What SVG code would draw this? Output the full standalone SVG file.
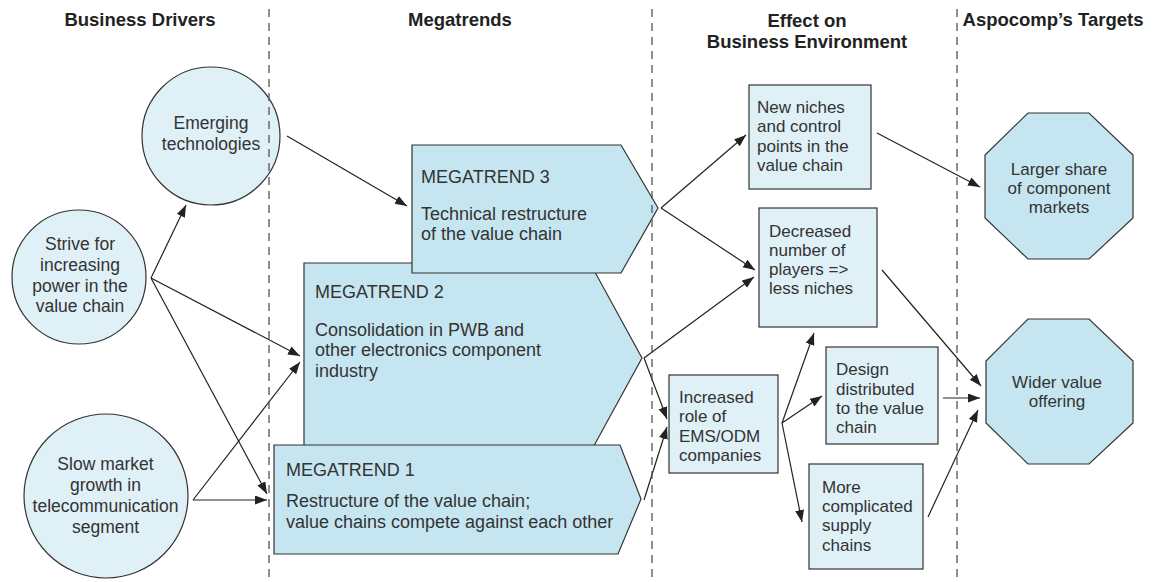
<svg xmlns="http://www.w3.org/2000/svg" width="1156" height="582" viewBox="0 0 1156 582">
  <style>
    .hd { font-family: "Liberation Sans", Arial, sans-serif; font-weight: bold; font-size: 18.5px; fill: #222; text-anchor: middle; }
    .t { font-family: "Liberation Sans", Arial, sans-serif; fill: #333; }
    .c { font-size: 17.5px; text-anchor: middle; }
    .m { font-size: 18px; }
    .b { font-size: 17px; }
    .o { font-size: 17px; text-anchor: middle; }
    .circ { fill: #dff0f7; stroke: #333; stroke-width: 1.2; }
    .mega { fill: #c5e6f0; stroke: #333; stroke-width: 1.2; }
    .box { fill: #dff0f7; stroke: #333; stroke-width: 1.2; }
    .oct { fill: #c5e6f0; stroke: #333; stroke-width: 1.2; }
    .edge { stroke: #222; stroke-width: 1.2; fill: none; marker-end: url(#arrow); }
    .sep { stroke: #555; stroke-width: 1.3; stroke-dasharray: 8 6; }
  </style>
  <defs>
    <marker id="arrow" markerUnits="userSpaceOnUse" markerWidth="13" markerHeight="10" refX="12" refY="4.5" orient="auto">
      <path d="M0,0 L12,4.5 L0,9 z" fill="#222"/>
    </marker>
  </defs>

  <rect width="1156" height="582" fill="#fff"/>

  <!-- column headings -->
  <g id="headings">
    <text class="hd" x="140" y="26">Business Drivers</text>
    <text class="hd" x="460" y="26">Megatrends</text>
    <text class="hd" x="807" y="27">Effect on</text>
    <text class="hd" x="807" y="48">Business Environment</text>
    <text class="hd" x="1053" y="26">Aspocomp’s Targets</text>
  </g>

  <!-- business drivers -->
  <g id="emerging">
    <circle class="circ" cx="211" cy="136" r="69"/>
    <text class="t c"><tspan x="211" y="129">Emerging</tspan><tspan x="211" y="150">technologies</tspan></text>
  </g>
  <g id="strive">
    <circle class="circ" cx="79" cy="277" r="67"/>
    <text class="t c"><tspan x="80" y="250">Strive for</tspan><tspan x="80" y="271">increasing</tspan><tspan x="80" y="291.5">power in the</tspan><tspan x="80" y="312">value chain</tspan></text>
  </g>
  <g id="slow">
    <circle class="circ" cx="106" cy="496" r="82"/>
    <text class="t c"><tspan x="105.5" y="470">Slow market</tspan><tspan x="105.5" y="491">growth in</tspan><tspan x="105.5" y="512">telecommunication</tspan><tspan x="105.5" y="533">segment</tspan></text>
  </g>

  <!-- megatrends -->
  <g id="megatrend2">
    <polygon class="mega" points="304,263 590,263 642,358 590,453 304,453"/>
    <text class="t m"><tspan x="315" y="298">MEGATREND 2</tspan><tspan x="315" y="336">Consolidation in PWB and</tspan><tspan x="315" y="356">other electronics component</tspan><tspan x="315" y="377">industry</tspan></text>
  </g>
  <g id="megatrend3">
    <polygon class="mega" points="412,145 621,145 658,208 621,273 412,273"/>
    <text class="t m"><tspan x="421" y="183">MEGATREND 3</tspan><tspan x="421" y="220">Technical restructure</tspan><tspan x="421" y="240">of the value chain</tspan></text>
  </g>
  <g id="megatrend1">
    <polygon class="mega" points="274,445 620,445 641,499 618,554 274,554"/>
    <text class="t m"><tspan x="286" y="476">MEGATREND 1</tspan><tspan x="286" y="507">Restructure of the value chain;</tspan><tspan x="286" y="528">value chains compete against each other</tspan></text>
  </g>

  <!-- effects on business environment -->
  <g id="niches">
    <rect class="box" x="749" y="85" width="122" height="104"/>
    <text class="t b"><tspan x="757" y="113">New niches</tspan><tspan x="757" y="132">and control</tspan><tspan x="757" y="151.5">points in the</tspan><tspan x="757" y="171">value chain</tspan></text>
  </g>
  <g id="decreased">
    <rect class="box" x="759" y="208" width="118" height="119"/>
    <text class="t b"><tspan x="769" y="237">Decreased</tspan><tspan x="769" y="256">number of</tspan><tspan x="769" y="275">players =&gt;</tspan><tspan x="769" y="294">less niches</tspan></text>
  </g>
  <g id="design">
    <rect class="box" x="826" y="347" width="112" height="97"/>
    <text class="t b"><tspan x="836" y="375">Design</tspan><tspan x="836" y="394.5">distributed</tspan><tspan x="836" y="414">to the value</tspan><tspan x="836" y="433">chain</tspan></text>
  </g>
  <g id="increased">
    <rect class="box" x="669" y="375" width="109" height="98"/>
    <text class="t b"><tspan x="679" y="403">Increased</tspan><tspan x="679" y="422">role of</tspan><tspan x="679" y="441.5">EMS/ODM</tspan><tspan x="679" y="461">companies</tspan></text>
  </g>
  <g id="supply">
    <rect class="box" x="809" y="464" width="114" height="105"/>
    <text class="t b"><tspan x="822" y="493">More</tspan><tspan x="822" y="512">complicated</tspan><tspan x="822" y="531">supply</tspan><tspan x="822" y="551">chains</tspan></text>
  </g>

  <!-- targets -->
  <g id="share">
    <polygon class="oct" points="1028,113 1089,113 1133,155 1133,218 1089,259 1028,259 985,218 985,155"/>
    <text class="t o"><tspan x="1059" y="175">Larger share</tspan><tspan x="1059" y="194">of component</tspan><tspan x="1059" y="213">markets</tspan></text>
  </g>
  <g id="offering">
    <polygon class="oct" points="1028,319 1089,319 1133,361 1133,423 1089,464 1028,464 986,423 986,361"/>
    <text class="t o"><tspan x="1057" y="388">Wider value</tspan><tspan x="1057" y="407">offering</tspan></text>
  </g>

  <!-- connectors -->
  <g id="connectors">
    <line class="edge" x1="287" y1="136" x2="407" y2="206"/>
    <line class="edge" x1="151" y1="278" x2="186" y2="205"/>
    <line class="edge" x1="151" y1="278" x2="300" y2="356"/>
    <line class="edge" x1="151" y1="278" x2="267" y2="494"/>
    <line class="edge" x1="193" y1="500" x2="300" y2="362"/>
    <line class="edge" x1="193" y1="500" x2="267" y2="500"/>
    <line class="edge" x1="661" y1="208" x2="746" y2="135"/>
    <line class="edge" x1="661" y1="208" x2="755" y2="270"/>
    <line class="edge" x1="644" y1="358" x2="754" y2="277"/>
    <line class="edge" x1="644" y1="358" x2="667" y2="419"/>
    <line class="edge" x1="644" y1="500" x2="667" y2="427"/>
    <line class="edge" x1="782" y1="423" x2="814" y2="333"/>
    <line class="edge" x1="782" y1="423" x2="822" y2="396"/>
    <line class="edge" x1="782" y1="423" x2="802" y2="522"/>
    <line class="edge" x1="877" y1="133" x2="980" y2="187"/>
    <line class="edge" x1="882" y1="270" x2="981" y2="386"/>
    <line class="edge" x1="943" y1="398" x2="980" y2="398"/>
    <line class="edge" x1="928" y1="517" x2="978" y2="410"/>
  </g>

  <!-- column separators -->
  <g id="separators">
    <line class="sep" x1="269" y1="9" x2="269" y2="582"/>
    <line class="sep" x1="652" y1="9" x2="652" y2="582"/>
    <line class="sep" x1="957" y1="9" x2="957" y2="582"/>
  </g>
</svg>
